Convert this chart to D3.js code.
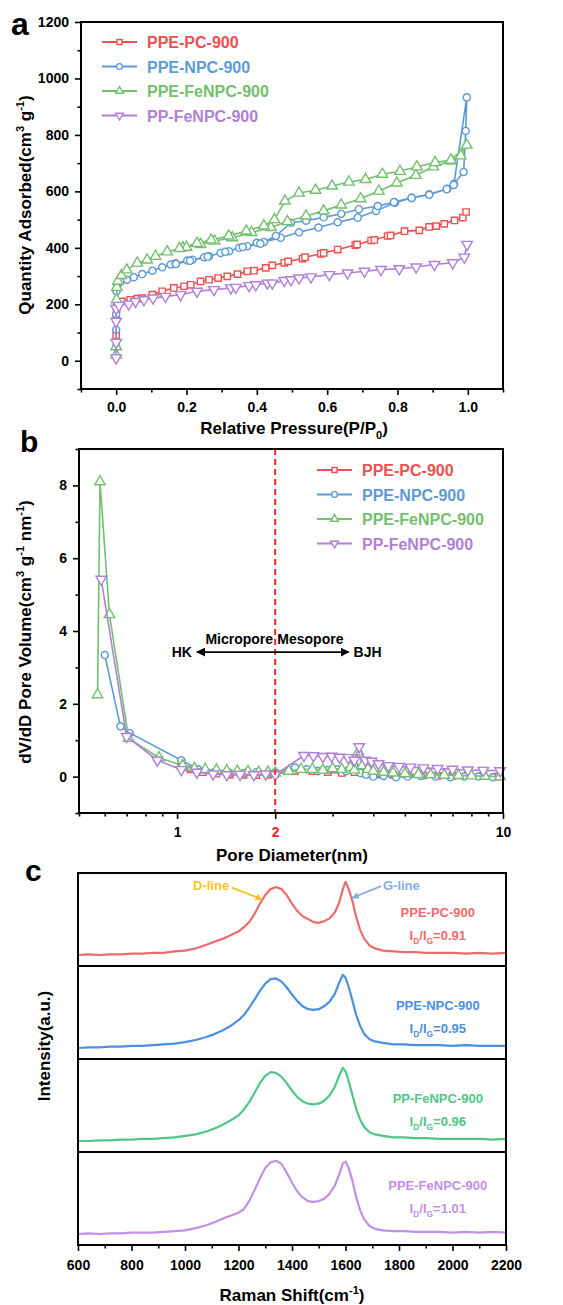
<!DOCTYPE html>
<html>
<head>
<meta charset="utf-8">
<script src="https://cdn.jsdelivr.net/npm/d3@7"></script>
<style>
  body { margin: 0; background: #fff; }
  svg { display: block; font-family: "Liberation Sans", Arial, sans-serif; font-weight: bold; }
</style>
</head>
<body>
<div id="fig"></div>
<script>
// ---------- panel a : N2 isotherms (P/P0, cm3/g) ----------
var pcP = [0, 0, 0.001, 0.003, 0.017, 0.04, 0.06, 0.074, 0.103, 0.131, 0.164, 0.193, 0.212, 0.24, 0.264, 0.29, 0.316, 0.345, 0.373, 0.392, 0.425, 0.444, 0.478, 0.489, 0.53, 0.537, 0.582, 0.59, 0.63, 0.68, 0.685, 0.725, 0.734, 0.772, 0.78, 0.82, 0.862, 0.89, 0.91, 0.933, 0.962, 0.986, 0.995];
var pcQ = [90, 150, 185, 200, 210, 216, 220, 222, 234, 246, 258, 264, 269, 281, 287, 293, 299, 307, 317, 319, 329, 338, 347, 352, 362, 367, 379, 382, 394, 410, 412, 426, 428, 442, 444, 459, 462, 474, 477, 485, 497, 507, 527];

var npcP = [0, 0, 0, 0.001, 0.004, 0.012, 0.031, 0.05, 0.074, 0.103, 0.131, 0.155, 0.169, 0.202, 0.217, 0.25, 0.264, 0.297, 0.321, 0.35, 0.373, 0.40, 0.42, 0.468, 0.52, 0.575, 0.63, 0.687, 0.739, 0.793, 0.84, 0.89, 0.942, 0.961, 0.988, 0.994, 0.997, 0.96, 0.94, 0.89, 0.84, 0.79, 0.744, 0.69, 0.64, 0.59, 0.54, 0.497, 0.454, 0.41, 0.36, 0.31, 0.26, 0.21, 0.17];
var npcQ = [50, 110, 165, 246, 268, 281, 287, 296, 307, 319, 331, 341, 345, 355, 358, 367, 370, 382, 388, 400, 406, 418, 421, 436, 455, 472, 491, 507, 531, 560, 577, 590, 609, 627, 669, 814, 933, 623, 608, 588, 577, 562, 548, 537, 521, 508, 496, 489, 442, 415, 403, 386, 369, 354, 343];

var fenpcP = [0, 0, 0.001, 0.002, 0.005, 0.015, 0.03, 0.06, 0.088, 0.112, 0.145, 0.19, 0.2, 0.24, 0.28, 0.33, 0.385, 0.44, 0.487, 0.54, 0.59, 0.64, 0.695, 0.747, 0.798, 0.852, 0.902, 0.954, 0.98, 0.997, 0.952, 0.907, 0.855, 0.807, 0.757, 0.709, 0.662, 0.614, 0.567, 0.52, 0.48, 0.45, 0.42, 0.37, 0.32, 0.27, 0.23, 0.18];
var fenpcQ = [20, 50, 216, 260, 282, 302, 322, 346, 357, 370, 386, 400, 402, 412, 424, 436, 454, 472, 493, 513, 531, 552, 574, 601, 630, 657, 687, 708, 726, 764, 711, 702, 687, 671, 661, 642, 633, 619, 604, 594, 566, 500, 478, 460, 442, 428, 416, 398];

var ppP = [0, 0, 0, 0, 0.008, 0.036, 0.055, 0.079, 0.105, 0.14, 0.183, 0.23, 0.278, 0.326, 0.34, 0.378, 0.397, 0.43, 0.444, 0.478, 0.497, 0.52, 0.554, 0.606, 0.658, 0.706, 0.753, 0.805, 0.853, 0.905, 0.957, 0.99, 0.998];
var ppQ = [10, 65, 140, 185, 196, 201, 210, 216, 222, 228, 234, 246, 252, 258, 260, 266, 269, 275, 275, 284, 287, 293, 297, 305, 311, 317, 323, 326, 332, 341, 347, 367, 412];

var ticksA_x = [0, 0.2, 0.4, 0.6, 0.8, 1.0];
var ticksA_y = [0, 200, 400, 600, 800, 1000, 1200];

// ---------- panel b : pore size distribution (nm, cm3 g-1 nm-1) ----------
var pcD = [1.03, 1.1, 1.2, 1.32, 1.45, 1.6, 1.75, 1.9, 2.0, 2.3, 2.6, 2.9, 3.2, 3.5, 3.8, 4.2, 4.6, 5.1, 5.7, 6.3, 7.0, 7.8, 8.7, 9.6];
var pcV = [0.28, 0.2, 0.12, 0.08, 0.05, 0.05, 0.04, 0.05, 0.08, 0.15, 0.15, 0.12, 0.1, 0.12, 0.08, 0.06, 0.05, 0.04, 0.03, 0.02, 0.02, 0.05, 0.03, 0.0];

var npcD = [0.60, 0.67, 0.715, 1.03, 1.16, 1.3, 1.45, 1.6, 1.75, 1.9, 2.0, 2.3, 2.5, 2.7, 2.9, 3.1, 3.3, 3.5, 3.65, 3.8, 4.0, 4.3, 4.7, 5.1, 5.6, 6.2, 6.9, 7.6, 8.4, 9.3];
var npcV = [3.34, 1.38, 1.2, 0.45, 0.2, 0.12, 0.1, 0.1, 0.12, 0.1, 0.12, 0.25, 0.2, 0.15, 0.18, 0.2, 0.15, 0.3, 0.1, 0.05, 0.0, 0.02, -0.02, 0.0, 0.02, 0.0, -0.02, 0.0, 0.0, -0.02];

var fenpcD = [0.57, 0.58, 0.62, 0.71, 0.88, 1.04, 1.13, 1.22, 1.32, 1.42, 1.53, 1.65, 1.78, 1.9, 2.0, 2.2, 2.4, 2.6, 2.8, 3.0, 3.2, 3.4, 3.5, 3.6, 3.7, 3.85, 4.0, 4.3, 4.6, 5.0, 5.5, 6.0, 6.6, 7.3, 8.0, 8.8, 9.8];
var fenpcV = [2.25, 8.1, 4.45, 1.05, 0.52, 0.3, 0.22, 0.2, 0.18, 0.16, 0.15, 0.14, 0.12, 0.12, 0.1, 0.15, 0.2, 0.2, 0.18, 0.22, 0.2, 0.25, 0.18, 0.68, 0.3, 0.2, 0.15, 0.12, 0.1, 0.08, 0.06, 0.05, 0.04, 0.03, 0.02, 0.01, 0.0];

var ppD = [0.585, 0.70, 0.87, 1.03, 1.15, 1.29, 1.42, 1.56, 1.72, 1.87, 2.0, 2.45, 2.62, 2.8, 2.98, 3.15, 3.35, 3.5, 3.62, 3.78, 3.95, 4.15, 4.45, 4.8, 5.2, 5.7, 6.3, 7.0, 7.8, 8.7, 9.8];
var ppV = [5.42, 1.1, 0.45, 0.19, 0.12, 0.07, 0.05, 0.06, 0.05, 0.07, 0.05, 0.58, 0.57, 0.55, 0.56, 0.53, 0.52, 0.45, 0.82, 0.45, 0.42, 0.35, 0.3, 0.28, 0.26, 0.24, 0.22, 0.2, 0.18, 0.17, 0.16];

var ticksB_y = [0, 2, 4, 6, 8];

// ---------- panel c : Raman spectra (normalised) ----------
var ramanShift = [600, 640, 680, 720, 760, 800, 840, 880, 920, 960, 1000, 1040, 1080, 1110, 1140, 1170, 1200, 1220, 1240, 1260, 1280, 1300, 1320, 1340, 1360, 1380, 1400, 1420, 1440, 1460, 1480, 1500, 1520, 1540, 1560, 1575, 1590, 1600, 1610, 1625, 1640, 1655, 1670, 1690, 1710, 1740, 1780, 1820, 1860, 1900, 1950, 2000, 2050, 2100, 2150, 2200];
var ramanPC = [0.00, 0.01, 0.00, 0.01, 0.01, 0.02, 0.02, 0.03, 0.03, 0.05, 0.06, 0.09, 0.14, 0.18, 0.22, 0.27, 0.32, 0.38, 0.45, 0.56, 0.70, 0.82, 0.90, 0.93, 0.90, 0.82, 0.70, 0.60, 0.53, 0.49, 0.45, 0.44, 0.46, 0.50, 0.58, 0.70, 0.90, 1.00, 0.92, 0.75, 0.52, 0.34, 0.22, 0.13, 0.09, 0.06, 0.05, 0.04, 0.04, 0.03, 0.03, 0.03, 0.02, 0.03, 0.02, 0.03];
var ramanNPC = [0.00, 0.01, 0.01, 0.02, 0.02, 0.03, 0.03, 0.04, 0.05, 0.06, 0.08, 0.11, 0.15, 0.19, 0.24, 0.30, 0.38, 0.45, 0.55, 0.66, 0.78, 0.88, 0.94, 0.95, 0.91, 0.83, 0.73, 0.64, 0.57, 0.53, 0.52, 0.53, 0.57, 0.63, 0.74, 0.88, 1.00, 0.96, 0.86, 0.66, 0.45, 0.30, 0.19, 0.12, 0.09, 0.07, 0.05, 0.05, 0.04, 0.04, 0.04, 0.03, 0.04, 0.03, 0.03, 0.03];
var ramanPPFe = [0.00, 0.00, 0.01, 0.01, 0.02, 0.02, 0.03, 0.03, 0.04, 0.05, 0.07, 0.09, 0.13, 0.17, 0.22, 0.28, 0.35, 0.43, 0.53, 0.66, 0.79, 0.89, 0.94, 0.93, 0.88, 0.79, 0.69, 0.60, 0.54, 0.51, 0.50, 0.51, 0.55, 0.62, 0.74, 0.88, 1.00, 0.95, 0.84, 0.64, 0.44, 0.29, 0.19, 0.12, 0.09, 0.07, 0.05, 0.05, 0.04, 0.04, 0.03, 0.03, 0.03, 0.03, 0.02, 0.03];
var ramanPPEFe = [0.00, 0.01, 0.00, 0.01, 0.01, 0.02, 0.02, 0.02, 0.03, 0.04, 0.05, 0.08, 0.12, 0.16, 0.21, 0.25, 0.29, 0.34, 0.45, 0.60, 0.76, 0.90, 0.98, 1.00, 0.96, 0.84, 0.70, 0.58, 0.50, 0.45, 0.44, 0.45, 0.48, 0.55, 0.66, 0.80, 0.96, 0.99, 0.92, 0.74, 0.50, 0.32, 0.20, 0.11, 0.07, 0.05, 0.04, 0.04, 0.03, 0.03, 0.03, 0.02, 0.03, 0.02, 0.03, 0.02];
var ramanNames = ["PPE-PC-900", "PPE-NPC-900", "PP-FeNPC-900", "PPE-FeNPC-900"];
var ramanRatio = ["0.91", "0.95", "0.96", "1.01"];
var ticksC_x = [600, 800, 1000, 1200, 1400, 1600, 1800, 2000, 2200];

// colours
var cRed = "#ef4f4f", cBlue = "#5b9bd5", cGreen = "#72c06e", cPurple = "#b07fd6";
var ramanColors = ["#ef6b6b", "#4b8fe0", "#4fc688", "#c28fe6"];

var W = 563, H = 1305;
var svg = d3.select("#fig").append("svg").attr("width", W).attr("height", H);
svg.append("rect").attr("width", W).attr("height", H).attr("fill", "#fff");

// plot boxes
var A = { left: 81, right: 503, top: 22, bottom: 389 };
var B = { left: 79, right: 503, top: 449, bottom: 813 };
var C = { left: 78, right: 506, top: 873, bottom: 1245 };

// write text with sub/superscripts, parts = [[text, "sup"|"sub"|null], ...]
function rich(textSel, parts, fs) {
    var cur = 0;
    parts.forEach(function (p) {
        var off = p[1] === "sup" ? -0.4 * fs : p[1] === "sub" ? 0.3 * fs : 0;
        textSel.append("tspan")
            .attr("dy", off - cur)
            .attr("font-size", p[1] ? fs * 0.65 : fs)
            .text(p[0]);
        cur = off;
    });
}

function styleAxis(g, size) {
    g.select(".domain").remove();
    g.selectAll(".tick line").attr("stroke", "#000").attr("stroke-width", 1.6);
    g.selectAll(".tick text").attr("fill", "#000").attr("font-size", size || 14).attr("font-weight", "bold")
        .attr("font-family", "Liberation Sans, Arial, sans-serif");
}

var symSquare = d3.symbol(d3.symbolSquare, 40)();
var symCircle = d3.symbol(d3.symbolCircle, 40)();
var symTri = d3.symbol(d3.symbolTriangle, 48)();

function drawSeries(g, xs, ys, xv, yv, color, sym, flip) {
    var pts = xv.map(function (v, i) { return [v, yv[i]]; });
    g.append("path")
        .datum(pts)
        .attr("fill", "none")
        .attr("stroke", color)
        .attr("stroke-width", 1.6)
        .attr("d", d3.line().x(function (d) { return xs(d[0]); }).y(function (d) { return ys(d[1]); }));
    g.selectAll(null)
        .data(pts)
        .enter()
        .append("path")
        .attr("d", sym)
        .attr("transform", function (d) { return "translate(" + xs(d[0]) + "," + ys(d[1]) + ")" + (flip ? " rotate(180)" : ""); })
        .attr("fill", "#fff")
        .attr("stroke", color)
        .attr("stroke-width", 1.4);
}

function legend(g, x, y0, dy, names, colors, syms) {
    names.forEach(function (n, i) {
        var y = y0 + i * dy;
        g.append("line").attr("x1", x).attr("x2", x + 35).attr("y1", y).attr("y2", y)
            .attr("stroke", colors[i]).attr("stroke-width", 2);
        g.append("path").attr("d", d3.symbol(syms[i][0], 26)())
            .attr("transform", "translate(" + (x + 17.5) + "," + y + ")" + (syms[i][1] ? " rotate(180)" : ""))
            .attr("fill", "#fff").attr("stroke", colors[i]).attr("stroke-width", 1.4);
        g.append("text").attr("x", x + 45).attr("y", y + 6).attr("font-size", 16)
            .attr("fill", colors[i]).text(n);
    });
}

var legNames = ["PPE-PC-900", "PPE-NPC-900", "PPE-FeNPC-900", "PP-FeNPC-900"];
var legColors = [cRed, cBlue, cGreen, cPurple];
var legSyms = [[d3.symbolSquare, false], [d3.symbolCircle, false], [d3.symbolTriangle, false], [d3.symbolTriangle, true]];

// ================= panel a =================
var xA = d3.scaleLinear().domain([-0.1, 1.1]).range([A.left, A.right]);
var yA = d3.scaleLinear().domain([-100, 1200]).range([A.bottom, A.top]);

var gA = svg.append("g");
gA.append("g").attr("transform", "translate(0," + A.bottom + ")")
    .call(d3.axisBottom(xA).tickValues(ticksA_x).tickFormat(d3.format(".1f")).tickSize(6).tickPadding(7))
    .call(styleAxis);
gA.append("g").attr("transform", "translate(0," + A.bottom + ")")
    .call(d3.axisBottom(xA).tickValues(d3.range(-0.1, 1.15, 0.2)).tickFormat("").tickSize(3.5))
    .call(styleAxis);
gA.append("g").attr("transform", "translate(" + A.left + ",0)")
    .call(d3.axisLeft(yA).tickValues(ticksA_y).tickFormat(d3.format("d")).tickSize(6).tickPadding(6))
    .call(styleAxis);
gA.append("g").attr("transform", "translate(" + A.left + ",0)")
    .call(d3.axisLeft(yA).tickValues(d3.range(-100, 1200, 200)).tickFormat("").tickSize(3.5))
    .call(styleAxis);

drawSeries(gA, xA, yA, pcP, pcQ, cRed, symSquare, false);
drawSeries(gA, xA, yA, npcP, npcQ, cBlue, symCircle, false);
drawSeries(gA, xA, yA, fenpcP, fenpcQ, cGreen, symTri, false);
drawSeries(gA, xA, yA, ppP, ppQ, cPurple, symTri, true);

gA.append("rect").attr("x", A.left).attr("y", A.top).attr("width", A.right - A.left).attr("height", A.bottom - A.top)
    .attr("fill", "none").attr("stroke", "#000").attr("stroke-width", 2);
legend(gA, 102, 42, 24.5, legNames, legColors, legSyms);

var tA = gA.append("text").attr("transform", "translate(31,205) rotate(-90)").attr("text-anchor", "middle");
rich(tA, [["Quantity Adsorbed(cm", null], ["3", "sup"], [" g", null], ["-1", "sup"], [")", null]], 17);
var tAx = gA.append("text").attr("x", 294).attr("y", 434).attr("text-anchor", "middle");
rich(tAx, [["Relative Pressure(P/P", null], ["0", "sub"], [")", null]], 17);
svg.append("text").attr("x", 11).attr("y", 35).attr("font-size", 32).text("a");

// ================= panel b =================
var xB = d3.scaleLog().domain([0.5, 10]).range([B.left, B.right]);
var yB = d3.scaleLinear().domain([-1, 9]).range([B.bottom, B.top]);

var gB = svg.append("g");
gB.append("g").attr("transform", "translate(0," + B.bottom + ")")
    .call(d3.axisBottom(xB).tickValues([1, 2, 10]).tickFormat(d3.format("d")).tickSize(6).tickPadding(8))
    .call(styleAxis);
gB.append("g").attr("transform", "translate(0," + B.bottom + ")")
    .call(d3.axisBottom(xB).tickValues([0.5, 0.6, 0.7, 0.8, 0.9, 3, 4, 5, 6, 7, 8, 9]).tickFormat("").tickSize(3.5))
    .call(styleAxis);
gB.selectAll(".tick text").filter(function (d) { return d === 2; }).attr("fill", "#e8262b");
gB.append("g").attr("transform", "translate(" + B.left + ",0)")
    .call(d3.axisLeft(yB).tickValues(ticksB_y).tickSize(6).tickPadding(6))
    .call(styleAxis);
gB.append("g").attr("transform", "translate(" + B.left + ",0)")
    .call(d3.axisLeft(yB).tickValues([-1, 1, 3, 5, 7, 9]).tickFormat("").tickSize(3.5))
    .call(styleAxis);

drawSeries(gB, xB, yB, pcD, pcV, cRed, symSquare, false);
drawSeries(gB, xB, yB, npcD, npcV, cBlue, symCircle, false);
drawSeries(gB, xB, yB, fenpcD, fenpcV, cGreen, symTri, false);
drawSeries(gB, xB, yB, ppD, ppV, cPurple, symTri, true);

// 2 nm boundary
gB.append("line").attr("x1", xB(2)).attr("x2", xB(2)).attr("y1", B.top).attr("y2", B.bottom)
    .attr("stroke", "#e8262b").attr("stroke-width", 2).attr("stroke-dasharray", "6,4");

// HK <-> BJH arrow
var defs = svg.append("defs");
defs.append("marker").attr("id", "ah").attr("viewBox", "0 0 10 10").attr("refX", 9).attr("refY", 5)
    .attr("markerWidth", 5).attr("markerHeight", 5).attr("orient", "auto-start-reverse")
    .append("path").attr("d", "M0,0 L10,5 L0,10 z").attr("fill", "#000");
gB.append("line").attr("x1", xB(1.15)).attr("x2", xB(3.36)).attr("y1", yB(3.42)).attr("y2", yB(3.42))
    .attr("stroke", "#000").attr("stroke-width", 1.8)
    .attr("marker-start", "url(#ah)").attr("marker-end", "url(#ah)");
gB.append("text").attr("x", xB(1.11)).attr("y", yB(3.29)).attr("text-anchor", "end").attr("font-size", 14).text("HK");
gB.append("text").attr("x", xB(3.48)).attr("y", yB(3.29)).attr("font-size", 14).text("BJH");
gB.append("text").attr("x", xB(1.97)).attr("y", yB(3.63)).attr("text-anchor", "end").attr("font-size", 14).text("Micropore");
gB.append("text").attr("x", xB(2.03)).attr("y", yB(3.63)).attr("font-size", 14).text("Mesopore");

gB.append("rect").attr("x", B.left).attr("y", B.top).attr("width", B.right - B.left).attr("height", B.bottom - B.top)
    .attr("fill", "none").attr("stroke", "#000").attr("stroke-width", 2);
legend(gB, 317, 470, 24.5, legNames, legColors, legSyms);

var tB = gB.append("text").attr("transform", "translate(31,632) rotate(-90)").attr("text-anchor", "middle");
rich(tB, [["dV/dD Pore Volume(cm", null], ["3", "sup"], [" g", null], ["-1", "sup"], [" nm", null], ["-1", "sup"], [")", null]], 17);
gB.append("text").attr("x", 292).attr("y", 861).attr("text-anchor", "middle").attr("font-size", 17).text("Pore Diameter(nm)");
svg.append("text").attr("x", 20).attr("y", 452).attr("font-size", 30).text("b");

// ================= panel c =================
var xC = d3.scaleLinear().domain([600, 2200]).range([C.left, C.right]);
var band = d3.scaleBand().domain(ramanNames).range([C.top, C.bottom]);
var yC = d3.scaleLinear().domain([-0.15, 1.12]).range([band.bandwidth(), 0]);
var ramanSets = [ramanPC, ramanNPC, ramanPPFe, ramanPPEFe];

var gC = svg.append("g");
gC.append("g").attr("transform", "translate(0," + C.bottom + ")")
    .call(d3.axisBottom(xC).tickValues(ticksC_x).tickFormat(d3.format("d")).tickSize(6).tickPadding(9))
    .call(styleAxis);
gC.append("g").attr("transform", "translate(0," + C.bottom + ")")
    .call(d3.axisBottom(xC).tickValues(d3.range(700, 2200, 200)).tickFormat("").tickSize(3.5))
    .call(styleAxis);

ramanNames.forEach(function (name, k) {
    var g = gC.append("g").attr("transform", "translate(0," + band(name) + ")");
    var pts = ramanShift.map(function (s, i) { return [s, ramanSets[k][i]]; });
    g.append("path").datum(pts)
        .attr("fill", "none").attr("stroke", ramanColors[k]).attr("stroke-width", 2.2)
        .attr("stroke-linejoin", "round")
        .attr("d", d3.line().x(function (d) { return xC(d[0]); }).y(function (d) { return yC(d[1]); }));
    var lblY = k === 3 ? 0.6 : 0.52;
    g.append("text").attr("x", xC(1945)).attr("y", yC(lblY)).attr("text-anchor", "middle")
        .attr("font-size", 13).attr("fill", ramanColors[k]).text(name);
    var r = g.append("text").attr("x", xC(1945)).attr("y", yC(lblY - 0.31)).attr("text-anchor", "middle")
        .attr("fill", ramanColors[k]);
    rich(r, [["I", null], ["D", "sub"], ["/I", null], ["G", "sub"], ["=" + ramanRatio[k], null]], 13);
    g.append("rect").attr("x", C.left).attr("y", 0).attr("width", C.right - C.left).attr("height", band.bandwidth())
        .attr("fill", "none").attr("stroke", "#000").attr("stroke-width", 2);
});

// D / G band markers on the top spectrum
var gTop = gC.append("g").attr("transform", "translate(0," + band(ramanNames[0]) + ")");
defs.append("marker").attr("id", "ahD").attr("viewBox", "0 0 10 10").attr("refX", 9).attr("refY", 5)
    .attr("markerWidth", 4).attr("markerHeight", 4).attr("orient", "auto")
    .append("path").attr("d", "M0,0 L10,5 L0,10 z").attr("fill", "#f6c426");
defs.append("marker").attr("id", "ahG").attr("viewBox", "0 0 10 10").attr("refX", 9).attr("refY", 5)
    .attr("markerWidth", 4).attr("markerHeight", 4).attr("orient", "auto")
    .append("path").attr("d", "M0,0 L10,5 L0,10 z").attr("fill", "#86b0de");
gTop.append("text").attr("x", xC(1030)).attr("y", yC(0.89)).attr("font-size", 13).attr("fill", "#f6c426").text("D-line");
gTop.append("line").attr("x1", xC(1175)).attr("y1", yC(0.92)).attr("x2", xC(1288)).attr("y2", yC(0.76))
    .attr("stroke", "#f6c426").attr("stroke-width", 1.8).attr("marker-end", "url(#ahD)");
gTop.append("text").attr("x", xC(1740)).attr("y", yC(0.89)).attr("font-size", 13).attr("fill", "#86b0de").text("G-line");
gTop.append("line").attr("x1", xC(1733)).attr("y1", yC(0.94)).attr("x2", xC(1625)).attr("y2", yC(0.78))
    .attr("stroke", "#86b0de").attr("stroke-width", 1.8).attr("marker-end", "url(#ahG)");

var tC = gC.append("text").attr("transform", "translate(50,1046) rotate(-90)").attr("text-anchor", "middle")
    .attr("font-size", 17).text("Intensity(a.u.)");
var tCx = gC.append("text").attr("x", 292).attr("y", 1301).attr("text-anchor", "middle");
rich(tCx, [["Raman Shift(cm", null], ["-1", "sup"], [")", null]], 17);
svg.append("text").attr("x", 25).attr("y", 881).attr("font-size", 30).text("c");
</script>
</body>
</html>
